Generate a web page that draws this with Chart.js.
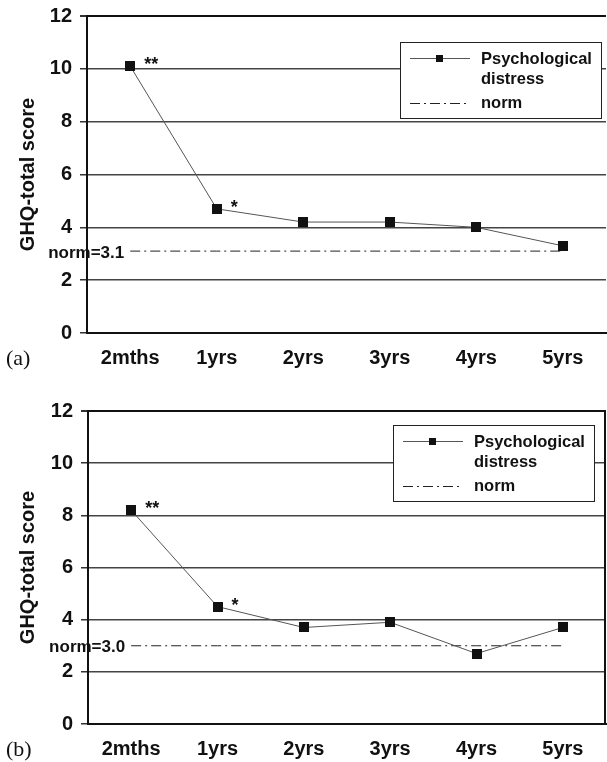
<!DOCTYPE html>
<html>
<head>
<meta charset="utf-8">
<script src="https://cdn.jsdelivr.net/npm/chart.js@4"></script>
<style>
    body { margin: 0; background: #fff; }
    .panel { position: relative; width: 607px; }
    canvas { display: block; }
</style>
</head>
<body>
<div class="panel"><canvas id="chartA" width="607" height="380"></canvas></div>
<div class="panel"><canvas id="chartB" width="607" height="382"></canvas></div>
<script>
// ------------------------------------------------------
// Data
// ------------------------------------------------------
const categories = ["2mths", "1yrs", "2yrs", "3yrs", "4yrs", "5yrs"];
const distressA = [10.1, 4.7, 4.2, 4.2, 4.0, 3.3];
const distressB = [8.2, 4.5, 3.7, 3.9, 2.7, 3.7];
const normA = 3.1;
const normB = 3.0;
const starsA = ["**", "*", "", "", "", ""];
const starsB = ["**", "*", "", "", "", ""];
const yMin = 0;
const yMax = 12;
const yStep = 2;

const SANS = '"Liberation Sans", Arial, Helvetica, sans-serif';
const SERIF = '"Liberation Serif", "Times New Roman", serif';

// Black square marker (as image so it does not add layout overflow)
const squareMarker = document.createElement("canvas");
squareMarker.width = 10;
squareMarker.height = 10;
(function () {
    const c = squareMarker.getContext("2d");
    c.fillStyle = "#111";
    c.fillRect(0, 0, 10, 10);
})();

/* ======================================================
   Annotations: stars, norm label, panel letter, legend box
====================================================== */
const annotations = {
    id: "annotations",
    afterDraw(chart, args, opts) {
        const ctx = chart.ctx;
        const area = chart.chartArea;
        const pts = chart.getDatasetMeta(0).data;
        const normPts = chart.getDatasetMeta(1).data;

        ctx.save();

        // right frame line
        if (opts.frameRight) {
            ctx.strokeStyle = "#111";
            ctx.lineWidth = 2;
            ctx.beginPath();
            ctx.moveTo(area.right - 1, area.top);
            ctx.lineTo(area.right - 1, area.bottom);
            ctx.stroke();
        }

        // significance stars
        ctx.fillStyle = "#111";
        ctx.font = "bold 18px " + SANS;
        ctx.textAlign = "left";
        ctx.textBaseline = "middle";
        opts.stars.forEach((s, i) => {
            if (s) ctx.fillText(s, pts[i].x + 14, pts[i].y - 1);
        });

        // norm label left of the line
        ctx.font = "bold 17px " + SANS;
        ctx.textAlign = "right";
        ctx.fillText(opts.normLabel, normPts[0].x - 6, normPts[0].y + 2);

        // panel letter
        ctx.font = "22px " + SERIF;
        ctx.textAlign = "left";
        ctx.fillText(opts.letter, 6, area.bottom + 26);

        // legend box
        const bx = area.right - opts.legendRight - 201;
        const by = area.top + opts.legendTop;
        ctx.fillStyle = "#fff";
        ctx.fillRect(bx, by, 201, 76);
        ctx.strokeStyle = "#222";
        ctx.lineWidth = 1;
        ctx.strokeRect(bx + 0.5, by + 0.5, 201, 76);

        // legend row 1: line + square marker
        ctx.strokeStyle = "#555";
        ctx.beginPath();
        ctx.moveTo(bx + 10, by + 16.5);
        ctx.lineTo(bx + 70, by + 16.5);
        ctx.stroke();
        ctx.fillStyle = "#111";
        ctx.fillRect(bx + 36, by + 13, 7, 7);

        // legend row 2: dash-dot line
        ctx.strokeStyle = "#222";
        ctx.setLineDash([10, 4, 2, 4]);
        ctx.beginPath();
        ctx.moveTo(bx + 10, by + 61.5);
        ctx.lineTo(bx + 70, by + 61.5);
        ctx.stroke();
        ctx.setLineDash([]);

        ctx.fillStyle = "#111";
        ctx.font = "bold 16.5px " + SANS;
        ctx.textAlign = "left";
        ctx.textBaseline = "middle";
        ctx.fillText("Psychological", bx + 81, by + 17);
        ctx.fillText("distress", bx + 81, by + 37);
        ctx.fillText("norm", bx + 81, by + 61);

        ctx.restore();
    }
};

function makeChart(canvasId, values, norm, stars, letter, layout) {
    const canvas = document.getElementById(canvasId);
    return new Chart(canvas, {
        type: "line",
        data: {
            labels: categories,
            datasets: [
                {
                    label: "Psychological distress",
                    data: values,
                    borderColor: "#555",
                    borderWidth: 1,
                    pointStyle: squareMarker,
                    pointRadius: 1,
                    pointHoverRadius: 1,
                    pointBorderWidth: 0,
                    tension: 0
                },
                {
                    label: "norm",
                    data: categories.map(() => norm),
                    borderColor: "#222",
                    borderWidth: 1,
                    borderDash: [10, 4, 2, 4],
                    pointRadius: 0,
                    pointHoverRadius: 0,
                    tension: 0
                }
            ]
        },
        options: {
            responsive: false,
            animation: false,
            devicePixelRatio: 1,
            layout: { padding: { top: layout.top, right: layout.right, left: 0, bottom: 0 } },
            plugins: {
                legend: { display: false },
                tooltip: { enabled: false },
                annotations: {
                    stars: stars,
                    normLabel: "norm=" + norm.toFixed(1),
                    letter: letter,
                    legendRight: layout.legendRight,
                    legendTop: layout.legendTop,
                    frameRight: layout.frameRight
                }
            },
            scales: {
                x: {
                    offset: true,
                    grid: { display: false, drawTicks: false },
                    border: { display: true, color: "#111", width: 2 },
                    ticks: {
                        color: "#111",
                        padding: 13,
                        font: { family: SANS, size: 20, weight: "bold" }
                    },
                    afterFit: scale => {
                        scale.height = layout.xHeight;
                        scale.paddingLeft = 0;
                        scale.paddingRight = 0;
                    }
                },
                y: {
                    min: yMin,
                    max: yMax,
                    grid: {
                        color: ctx => (ctx.tick && ctx.tick.value === yMax ? "#111" : "#444"),
                        lineWidth: ctx => (ctx.tick && ctx.tick.value === yMax ? 2 : 1.5),
                        tickColor: "#333",
                        tickLength: 7
                    },
                    border: { display: true, color: "#111", width: 2 },
                    ticks: {
                        stepSize: yStep,
                        color: "#111",
                        padding: 8,
                        font: { family: SANS, size: 20, weight: "bold" }
                    },
                    title: {
                        display: true,
                        text: "GHQ-total score",
                        color: "#111",
                        padding: { top: 16, bottom: 0 },
                        font: { family: SANS, size: 20, weight: "bold" }
                    },
                    afterFit: scale => {
                        scale.width = layout.yWidth;
                        scale.paddingTop = 0;
                        scale.paddingBottom = 0;
                    }
                }
            }
        },
        plugins: [annotations]
    });
}

makeChart("chartA", distressA, normA, starsA, "(a)", {
    top: 16, right: 0, xHeight: 47, yWidth: 87,
    legendRight: 5, legendTop: 26, frameRight: false
});

makeChart("chartB", distressB, normB, starsB, "(b)", {
    top: 31, right: 1, xHeight: 38, yWidth: 88,
    legendRight: 12, legendTop: 14, frameRight: true
});
</script>
</body>
</html>
